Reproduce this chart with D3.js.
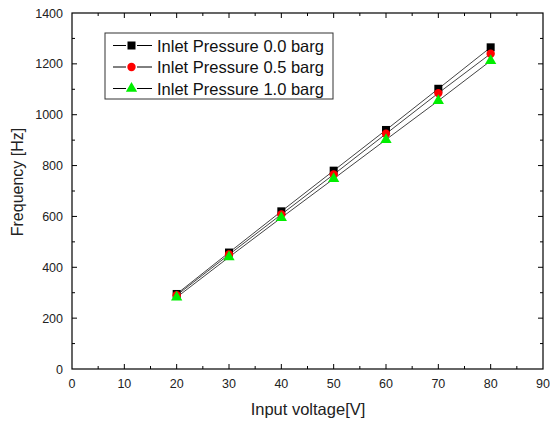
<!DOCTYPE html>
<html>
<head>
<meta charset="utf-8">
<style>
  body { margin: 0; background: #fff; }
  svg { display: block; font-family: Arial, "Liberation Sans", sans-serif; }
</style>
</head>
<body>
<svg width="550" height="423"></svg>
<script src="https://cdn.jsdelivr.net/npm/d3@7"></script>
<script>
// input voltage [V]
var voltage = [20, 30, 40, 50, 60, 70, 80];
// frequency [Hz] per inlet pressure
var p00 = [295, 458, 620, 780, 940, 1102, 1265];
var p05 = [290, 450, 608, 765, 925, 1085, 1240];
var p10 = [282, 440, 595, 748, 902, 1055, 1212];
var seriesNames = ["Inlet Pressure 0.0 barg", "Inlet Pressure 0.5 barg", "Inlet Pressure 1.0 barg"];
var xTicks = [0, 10, 20, 30, 40, 50, 60, 70, 80, 90];
var yTicks = [0, 200, 400, 600, 800, 1000, 1200, 1400];

var svg = d3.select("svg"),
    margin = {top: 13, right: 7, bottom: 54, left: 72},
    width = 550 - margin.left - margin.right,
    height = 423 - margin.top - margin.bottom;

var g = svg.append("g").attr("transform", "translate(" + margin.left + "," + margin.top + ")");

var x = d3.scaleLinear().domain([0, 90]).range([0, width]);
var y = d3.scaleLinear().domain([0, 1400]).range([height, 0]);

var series = [
    {name: seriesNames[0], values: p00, shape: "square", color: "#000"},
    {name: seriesNames[1], values: p05, shape: "circle", color: "#ff0000"},
    {name: seriesNames[2], values: p10, shape: "triangle", color: "#00ee00"}
];

// frame
g.append("rect").attr("width", width).attr("height", height)
    .attr("fill", "none").attr("stroke", "#000").attr("stroke-width", 1.2);

// ticks (inward on all sides)
var xMinor = d3.range(5, 90, 10);
var yMinor = d3.range(100, 1400, 200);
function tickLines(vals, len, axis) {
    vals.forEach(function(v) {
        if (axis === "x") {
            g.append("line").attr("x1", x(v)).attr("x2", x(v)).attr("y1", height).attr("y2", height - len).attr("stroke", "#000");
            g.append("line").attr("x1", x(v)).attr("x2", x(v)).attr("y1", 0).attr("y2", len).attr("stroke", "#000");
        } else {
            g.append("line").attr("y1", y(v)).attr("y2", y(v)).attr("x1", 0).attr("x2", len).attr("stroke", "#000");
            g.append("line").attr("y1", y(v)).attr("y2", y(v)).attr("x1", width).attr("x2", width - len).attr("stroke", "#000");
        }
    });
}
tickLines(xTicks.slice(1, -1), 5, "x");
tickLines(xMinor, 3, "x");
tickLines(yTicks.slice(1, -1), 5, "y");
tickLines(yMinor, 3, "y");

// tick labels
g.selectAll(".xl").data(xTicks).enter().append("text")
    .attr("x", function(d) { return x(d); }).attr("y", height + 19)
    .attr("text-anchor", "middle").attr("font-size", 12.5).attr("fill", "#222")
    .text(function(d) { return d; });
g.selectAll(".yl").data(yTicks).enter().append("text")
    .attr("x", -9).attr("y", function(d) { return y(d) + 4.5; })
    .attr("text-anchor", "end").attr("font-size", 12.5).attr("fill", "#222")
    .text(function(d) { return d; });

// axis titles
g.append("text").attr("x", 308 - margin.left).attr("y", height + 46)
    .attr("text-anchor", "middle").attr("font-size", 16.5).attr("fill", "#222")
    .text("Input voltage[V]");
g.append("text").attr("transform", "translate(" + (-49) + "," + (182 - margin.top) + ") rotate(-90)")
    .attr("text-anchor", "middle").attr("font-size", 16).attr("fill", "#222")
    .text("Frequency [Hz]");

function drawMarker(sel, shape, color) {
    if (shape === "square") {
        sel.append("rect").attr("x", -4).attr("y", -4).attr("width", 8).attr("height", 8).attr("fill", color);
    } else if (shape === "circle") {
        sel.append("circle").attr("r", 4.2).attr("fill", color);
    } else {
        sel.append("path").attr("d", d3.symbol().type(d3.symbolTriangle).size(55)).attr("fill", color);
    }
}

var line = d3.line()
    .x(function(d, i) { return x(voltage[i]); })
    .y(function(d) { return y(d); });

series.forEach(function(s) {
    g.append("path").datum(s.values).attr("d", line)
        .attr("fill", "none").attr("stroke", "#444").attr("stroke-width", 1);
});
series.forEach(function(s) {
    s.values.forEach(function(v, i) {
        var m = g.append("g").attr("transform", "translate(" + x(voltage[i]) + "," + y(v) + ")");
        drawMarker(m, s.shape, s.color);
    });
});

// legend
var leg = svg.append("g").attr("transform", "translate(105,33)");
leg.append("rect").attr("width", 228).attr("height", 66)
    .attr("fill", "#fff").attr("stroke", "#333").attr("stroke-width", 1);
series.forEach(function(s, i) {
    var row = leg.append("g").attr("transform", "translate(0," + (12.5 + i * 21.5) + ")");
    row.append("line").attr("x1", 8).attr("x2", 21).attr("y1", 0).attr("y2", 0).attr("stroke", "#000");
    row.append("line").attr("x1", 32).attr("x2", 47).attr("y1", 0).attr("y2", 0).attr("stroke", "#000");
    var m = row.append("g").attr("transform", "translate(26.5,0)");
    drawMarker(m, s.shape, s.color);
    row.append("text").attr("x", 52).attr("y", 6).attr("font-size", 16.5).attr("fill", "#111").text(s.name);
});
</script>
</body>
</html>
